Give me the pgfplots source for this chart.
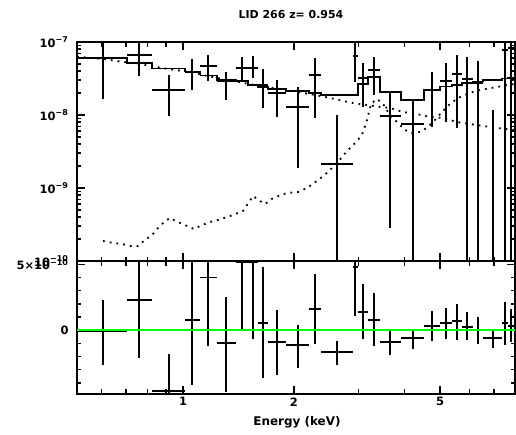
\documentclass[border=0pt]{standalone}
\usepackage{fontspec}
\setmainfont{DejaVu Sans}
\usepackage{pgfplots}
\usepackage{pgfplotstable}
\pgfplotsset{compat=1.18}

% spectrum: bin centre, bin edges, flux and its error range
\pgfplotstableread{
E     Elo   Ehi   F        Flo      Fhi
0.606 0.515 0.704 6.04e-8  1.66e-8  2e-7
0.759 0.704 0.822 6.64e-8  3.42e-8  2e-7
0.916 0.822 1.012 2.20e-8  9.69e-9  3.53e-8
1.058 1.012 1.115 3.88e-8  2.20e-8  5.85e-8
1.169 1.115 1.237 4.69e-8  2.92e-8  6.64e-8
1.309 1.237 1.393 2.92e-8  1.61e-8  3.88e-8
1.446 1.393 1.502 4.40e-8  2.92e-8  6.23e-8
1.550 1.502 1.599 4.40e-8  3.21e-8  6.43e-8
1.650 1.599 1.702 2.58e-8  1.25e-8  4.27e-8
1.800 1.702 1.905 2.00e-8  9.39e-9  3.02e-8
2.053 1.905 2.200 1.29e-8  1.88e-9  2.42e-8
2.284 2.200 2.371 3.53e-8  9.10e-9  6.04e-8
2.621 2.371 2.897 2.13e-9  1e-11    1.0e-8
2.934 2.897 2.990 6.43e-8  2.83e-8  2e-7
3.084 2.990 3.182 3.21e-8  1.29e-8  5.16e-8
3.304 3.182 3.430 4.13e-8  1.88e-8  6.23e-8
3.652 3.430 3.912 9.69e-9  2.83e-10 2.00e-8
4.217 3.912 4.518 7.53e-9  1e-11    1.61e-8
4.750 4.518 4.993 2.20e-8  6.85e-9  3.88e-8
5.184 4.993 5.383 2.92e-8  8.02e-9  5.16e-8
5.554 5.383 5.731 3.65e-8  6.64e-9  6.64e-8
5.912 5.731 6.138 3.11e-8  1e-11    6.23e-8
6.333 6.138 6.535 2.74e-8  1e-11    5.49e-8
6.958 6.535 7.359 5e-11    1e-11    1.17e-8
7.499 7.359 7.642 7.77e-8  1e-11    2e-7
7.786 7.642 7.985 8.28e-8  1e-11    2e-7
}\spectab

% residuals
\pgfplotstableread{
E     Elo   Ehi   R          Rlo        Rhi
0.606 0.515 0.704 -8e-12     -2.62e-10  2.31e-10
0.759 0.704 0.822 2.31e-10   -2.08e-10  8e-10
0.916 0.822 1.012 -4.6e-10   -8e-10     -1.85e-10
1.058 1.012 1.115 7.7e-11    -4.15e-10  8e-10
1.169 1.115 1.237 4.0e-10    -1.23e-10  8e-10
1.309 1.237 1.393 -1.0e-10   -4.7e-10   2.54e-10
1.446 1.393 1.502 5.15e-10   -8e-12     8e-10
1.550 1.502 1.599 5.15e-10   -6.9e-11   8e-10
1.650 1.599 1.702 5.4e-11    -3.6e-10   4.77e-10
1.800 1.702 1.905 -9.2e-11   -3.38e-10  1.54e-10
2.053 1.905 2.200 -1.15e-10  -2.85e-10  3.8e-11
2.284 2.200 2.371 1.62e-10   -1.08e-10  4.23e-10
2.621 2.371 2.897 -1.69e-10  -2.62e-10  -8.5e-11
2.934 2.897 2.990 4.77e-10   1.08e-10   8e-10
3.084 2.990 3.182 1.38e-10   -6.9e-11   3.54e-10
3.304 3.182 3.430 7.7e-11    -1.23e-10  2.85e-10
3.652 3.430 3.912 -9.2e-11   -1.92e-10  0
4.217 3.912 4.518 -6.2e-11   -1.46e-10  0
4.750 4.518 4.993 3.1e-11    -8.5e-11   1.46e-10
5.184 4.993 5.383 5.4e-11    -6.9e-11   1.69e-10
5.554 5.383 5.731 6.9e-11    -7.7e-11   2.0e-10
5.912 5.731 6.138 2.3e-11    -7.7e-11   1.38e-10
6.333 6.138 6.535 0          -1.08e-10  1.0e-10
6.958 6.535 7.359 -6.2e-11   -1.38e-10  8e-12
7.499 7.359 7.642 5.4e-11    -1.15e-10  2.15e-10
7.786 7.642 7.985 3.1e-11    -9.2e-11   1.62e-10
}\residtab

\begin{document}
\begin{tikzpicture}
\useasboundingbox (0,0) rectangle (516bp,-435bp);

\begin{axis}[at={(77bp,-42bp)}, anchor=north west,
    scale only axis, width=438bp, height=219bp,
    xmode=log, ymode=log,
    xmin=0.515, xmax=7.985, ymin=1e-10, ymax=1e-7,
    axis line style={line width=1.8bp},
    tick style={line width=1.5bp, black},
    tick align=inside, xtick pos=both, ytick pos=both,
    major tick length=8bp, minor tick length=4.5bp,
    xtick={1,2,5}, minor xtick={0.6,0.7,0.8,0.9,3,4,6,7},
    xticklabels={},
    ytick={1e-10,1e-9,1e-8,1e-7},
    yticklabels={{10\textsuperscript{−10}},{10\textsuperscript{−9}},{10\textsuperscript{−8}},{10\textsuperscript{−7}}},
    minor ytick={2e-10,3e-10,4e-10,5e-10,6e-10,7e-10,8e-10,9e-10,
                 2e-9,3e-9,4e-9,5e-9,6e-9,7e-9,8e-9,9e-9,
                 2e-8,3e-8,4e-8,5e-8,6e-8,7e-8,8e-8,9e-8},
    yticklabel style={font=\bfseries\fontsize{11.5}{13}\selectfont, xshift=-5bp},
  ]
  % absorbed component
  \addplot[black, line width=1.8bp, dash pattern=on 1.8bp off 5bp] coordinates {
    (0.606,1.88e-10) (0.645,1.77e-10) (0.683,1.71e-10) (0.718,1.61e-10) (0.755,1.61e-10)
    (0.788,1.94e-10) (0.824,2.27e-10) (0.855,2.83e-10) (0.888,3.42e-10) (0.922,3.88e-10)
    (0.969,3.42e-10) (1.025,3.02e-10) (1.071,2.74e-10) (1.126,3.11e-10) (1.184,3.42e-10)
    (1.245,3.65e-10) (1.367,4.27e-10) (1.455,4.84e-10) (1.550,7.77e-10) (1.619,6.64e-10)
    (1.671,6.04e-10) (1.756,7.30e-10) (1.917,8.55e-10) (2.053,8.81e-10) (2.173,1.0e-9)
    (2.312,1.25e-9) (2.462,1.61e-9) (2.621,2.20e-9) (2.791,3.21e-9) (2.934,4.13e-9)
    (3.065,5.32e-9) (3.162,8.55e-9) (3.243,1.42e-8) (3.367,1.66e-8) (3.495,1.42e-8)
    (3.652,1.0e-8) (3.839,7.77e-9) (4.011,6.23e-9) (4.191,5.67e-9) (4.406,5.85e-9)
    (4.632,6.85e-9) (4.839,8.55e-9) (5.056,1.10e-8) (5.315,1.42e-8) (5.589,1.71e-8)
    (5.839,1.88e-8) (6.217,2.13e-8) (6.617,2.27e-8) (7.135,2.42e-8) (7.594,2.58e-8)
    (7.985,2.66e-8)
  };
  % soft power law
  \addplot[black, line width=1.8bp, dash pattern=on 1.8bp off 5bp] coordinates {
    (0.515,6.3e-8) (0.606,5.85e-8) (0.759,5.0e-8) (0.916,4.25e-8) (1.058,3.85e-8)
    (1.169,3.4e-8) (1.309,3.05e-8) (1.550,2.6e-8) (1.800,2.3e-8) (2.053,2.08e-8)
    (2.432,1.77e-8) (2.722,1.56e-8) (2.897,1.46e-8) (3.430,1.29e-8) (3.652,1.25e-8)
    (3.962,1.10e-8) (4.325,1.03e-8) (4.690,9.39e-9) (5.087,9.10e-9) (5.554,8.02e-9)
    (6.025,7.53e-9) (6.535,7.07e-9) (7.135,6.64e-9) (7.985,6.23e-9)
  };
  % total model
  \addplot[black, line width=1.8bp, const plot mark left] coordinates {
    (0.515,6.04e-8) (0.704,5.16e-8) (0.822,4.33e-8) (1.012,3.95e-8) (1.115,3.48e-8)
    (1.237,3.02e-8) (1.393,2.92e-8) (1.502,2.60e-8) (1.599,2.40e-8) (1.702,2.27e-8)
    (1.905,2.11e-8) (2.200,2.00e-8) (2.371,1.86e-8) (2.897,1.88e-8) (2.990,2.66e-8)
    (3.182,3.32e-8) (3.430,2.07e-8) (3.912,1.61e-8) (4.518,2.20e-8) (4.993,2.46e-8)
    (5.383,2.58e-8) (5.731,2.74e-8) (6.138,2.88e-8) (6.535,3.02e-8) (7.359,3.16e-8)
    (7.642,3.21e-8) (7.985,3.21e-8)
  };
  \addplot[draw=none, mark=none,
    error bars/x dir=both, error bars/x explicit,
    error bars/y dir=both, error bars/y explicit,
    error bars/error mark=none,
    error bars/error bar style={draw=black, solid, line width=1.8bp}]
    table[x=E, y=F,
    x error minus expr=\thisrow{E}-\thisrow{Elo},
    x error plus expr=\thisrow{Ehi}-\thisrow{E},
    y error minus expr=\thisrow{F}-\thisrow{Flo},
    y error plus expr=\thisrow{Fhi}-\thisrow{F}] {\spectab};
\end{axis}

\begin{axis}[at={(77bp,-261bp)}, anchor=north west,
    scale only axis, width=438bp, height=133bp,
    xmode=log,
    xmin=0.515, xmax=7.985, ymin=-4.85e-10, ymax=5.25e-10,
    axis line style={line width=1.8bp},
    tick style={line width=1.5bp, black},
    tick align=inside, xtick pos=both, ytick pos=both,
    major tick length=8bp, minor tick length=4.5bp,
    xtick={1,2,5}, minor xtick={0.6,0.7,0.8,0.9,3,4,6,7},
    xticklabels={1,2,5},
    ytick={0,5e-10}, yticklabels={0,{5×10\textsuperscript{−10}}},
    minor ytick={-4e-10,-3e-10,-2e-10,-1e-10,1e-10,2e-10,3e-10,4e-10},
    scaled y ticks=false,
    tick label style={font=\bfseries\fontsize{11.5}{13}\selectfont},
    yticklabel style={xshift=-5bp},
  ]
  \addplot[draw=none, mark=none,
    error bars/x dir=both, error bars/x explicit,
    error bars/y dir=both, error bars/y explicit,
    error bars/error mark=none,
    error bars/error bar style={draw=black, solid, line width=1.8bp}]
    table[x=E, y=R,
    x error minus expr=\thisrow{E}-\thisrow{Elo},
    x error plus expr=\thisrow{Ehi}-\thisrow{E},
    y error minus expr=\thisrow{R}-\thisrow{Rlo},
    y error plus expr=\thisrow{Rhi}-\thisrow{R}] {\residtab};
  \addplot[green, line width=2.5bp] coordinates {(0.515,0) (7.985,0)};
\end{axis}

\node[font=\bfseries\fontsize{11}{13}\selectfont] at (291bp,-15bp) {LID 266 z= 0.954};
\node[font=\bfseries\fontsize{12}{14}\selectfont] at (297bp,-422bp) {Energy (keV)};
\end{tikzpicture}
\end{document}
